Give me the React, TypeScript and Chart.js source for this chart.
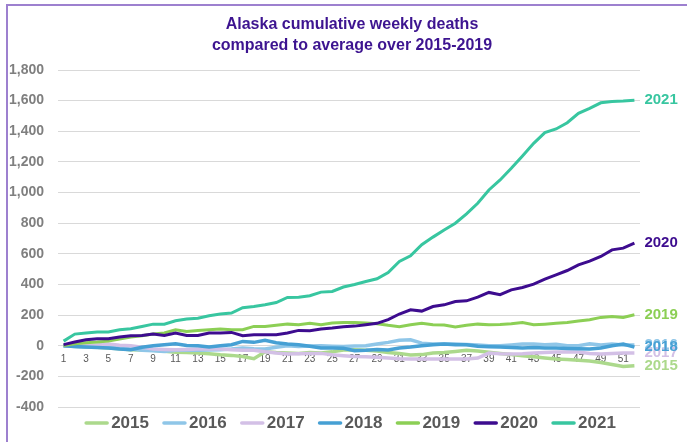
import { useEffect, useRef } from 'react';
import { Chart, registerables } from 'chart.js';

Chart.register(...registerables);

const FONT = "'Liberation Sans', Arial, Helvetica, sans-serif";

const weeks = ['1','2','3','4','5','6','7','8','9','10','11','12','13','14','15','16','17','18','19','20','21','22','23','24','25','26','27','28','29','30','31','32','33','34','35','36','37','38','39','40','41','42','43','44','45','46','47','48','49','50','51','52'];

const titleLines = ['Alaska cumulative weekly deaths', 'compared to average over 2015-2019'];

const yTicksMin = -400;
const yTicksMax = 1800;
const yTickStep = 200;

const seriesNames = ['2015', '2016', '2017', '2018', '2019', '2020', '2021'];
const seriesColors = ['#acd98c', '#8fc6e8', '#d3c0e6', '#46a0d4', '#8ccf55', '#3d0c8f', '#38c6a0'];

const deaths2015 = [0,-3,-6,-10,-15,-20,-26,-28,-30,-36,-43,-45,-48,-52,-59,-63,-70,-85,-40,-45,-48,-50,-45,-48,-40,-28,-26,-30,-34,-45,-50,-60,-58,-48,-44,-37,-30,-35,-42,-50,-57,-65,-72,-80,-87,-90,-95,-100,-110,-122,-135,-130];
const deaths2016 = [0,-5,-9,-5,0,-15,-22,-30,-33,-37,-30,-28,-30,-28,-26,-22,-15,-20,-22,-10,0,-5,-2,0,-3,-5,-2,0,11,22,35,39,17,11,11,11,8,5,0,0,5,11,11,7,9,0,0,13,5,11,5,5];
const deaths2017 = [0,2,0,5,11,3,0,-10,-22,-24,-26,-24,-22,-22,-22,-26,-30,-30,-40,-48,-54,-52,-50,-50,-59,-65,-70,-72,-75,-80,-85,-87,-87,-87,-87,-87,-87,-80,-48,-52,-54,-52,-48,-45,-41,-41,-41,-50,-54,-50,-48,-48];
const deaths2018 = [0,-5,-9,-12,-15,-22,-26,-10,0,7,13,2,0,-9,0,7,28,22,35,20,11,7,-4,-15,-15,-17,-33,-30,-24,-28,-15,-9,0,7,11,7,7,-4,-6,-9,-12,-15,-12,-15,-15,-18,-20,-22,-15,0,11,-9];
const deaths2019 = [2,13,20,24,30,43,57,65,76,83,104,93,100,104,109,104,104,126,126,133,141,137,146,137,148,152,152,148,144,133,124,137,146,137,135,122,133,141,137,139,144,152,137,141,146,152,161,170,185,191,185,202];
const deaths2020 = [7,24,39,46,46,57,65,67,76,67,83,67,67,83,83,87,65,72,72,72,83,100,98,109,115,124,128,137,146,170,207,235,226,256,267,289,293,317,348,333,365,380,402,435,463,491,528,552,583,626,637,670];
const deaths2021 = [30,76,83,89,89,104,111,126,141,141,163,174,180,196,207,213,248,256,267,282,315,317,326,350,354,383,400,419,437,478,550,587,659,709,756,800,861,930,1017,1082,1158,1239,1321,1391,1415,1456,1517,1550,1586,1595,1597,1602];

const seriesData = [deaths2015, deaths2016, deaths2017, deaths2018, deaths2019, deaths2020, deaths2021];

const chartTitle = {
  id: 'chartTitle',
  afterDraw(chart: any) {
    const ctx = chart.ctx;
    ctx.save();
    ctx.font = `bold 16px ${FONT}`;
    ctx.fillStyle = '#3d1490';
    ctx.textAlign = 'center';
    ctx.textBaseline = 'middle';
    const cx = chart.width / 2 + 8.5;
    titleLines.forEach((line, i) => {
      ctx.fillText(line, cx, 24.4 + i * 20.8);
    });
    ctx.restore();
  },
};

const endLabels = {
  id: 'endLabels',
  afterDatasetsDraw(chart: any) {
    const ctx = chart.ctx;
    ctx.save();
    ctx.font = `bold 15px ${FONT}`;
    ctx.textBaseline = 'middle';
    ctx.textAlign = 'left';
    chart.data.datasets.forEach((ds: any, i: number) => {
      const meta = chart.getDatasetMeta(i);
      const pt = meta.data[meta.data.length - 1];
      if (!pt) return;
      ctx.fillStyle = ds.borderColor;
      ctx.fillText(ds.label, pt.x + 10, pt.y);
    });
    ctx.restore();
  },
};

const customLegend = {
  id: 'customLegend',
  afterDraw(chart: any) {
    const ctx = chart.ctx;
    const { left, right, bottom } = chart.chartArea;
    ctx.save();
    ctx.font = `bold 17px ${FONT}`;
    const sample = 25;
    const gap = 2;
    const spacing = 13;
    const items = chart.data.datasets.map((ds: any) => ({
      label: ds.label,
      color: ds.borderColor,
      w: ctx.measureText(ds.label).width,
    }));
    const total = items.reduce((s: number, it: any) => s + sample + gap + it.w, 0) + spacing * (items.length - 1);
    let x = (left + right) / 2 - total / 2 + 1;
    const y = bottom + 16;
    items.forEach((it: any) => {
      ctx.strokeStyle = it.color;
      ctx.lineWidth = 3.5;
      ctx.lineCap = 'round';
      ctx.beginPath();
      ctx.moveTo(x + 2, y);
      ctx.lineTo(x + sample - 2, y);
      ctx.stroke();
      ctx.fillStyle = '#595959';
      ctx.textBaseline = 'middle';
      ctx.textAlign = 'left';
      ctx.fillText(it.label, x + sample + gap, y);
      x += sample + gap + it.w + spacing;
    });
    ctx.restore();
  },
};

export default function App() {
  const canvasRef = useRef<HTMLCanvasElement | null>(null);

  useEffect(() => {
    if (!canvasRef.current) return;
    const datasets = seriesNames.map((name, i) => ({
      label: name,
      data: seriesData[i],
      borderColor: seriesColors[i],
      backgroundColor: seriesColors[i],
      borderWidth: i < 4 ? 3.5 : 3,
      pointRadius: 0,
      pointHoverRadius: 0,
      tension: 0,
      fill: false,
      order: seriesNames.length - i,
    }));

    const chart = new Chart(canvasRef.current, {
      type: 'line',
      data: { labels: weeks, datasets },
      plugins: [endLabels, customLegend, chartTitle],
      options: {
        responsive: false,
        animation: false,
        devicePixelRatio: 1,
        layout: { padding: { left: 0, right: 47, top: 70, bottom: 35 } },
        plugins: {
          legend: { display: false },
          tooltip: { enabled: false },
          title: { display: false },
        },
        scales: {
          x: {
            type: 'category',
            position: { y: 0 } as any,
            offset: true,
            grid: { display: false, drawTicks: false },
            border: { display: false },
            ticks: {
              autoSkip: false,
              maxRotation: 0,
              minRotation: 0,
              padding: 8,
              color: '#595959',
              font: { family: FONT, size: 10 },
              callback: (_v: any, i: number) => (i % 2 === 0 ? weeks[i] : ''),
            },
          },
          y: {
            min: yTicksMin,
            max: yTicksMax,
            grid: { color: '#d9d9d9', lineWidth: 1, drawTicks: false },
            border: { display: false },
            ticks: {
              stepSize: yTickStep,
              padding: 14,
              color: '#7f7f7f',
              font: { family: FONT, size: 14, weight: 'bold' },
              callback: (v: any) => Number(v).toLocaleString('en-US'),
            },
            afterFit: (scale: any) => {
              scale.width = 58;
            },
          },
        },
      } as any,
    });
    return () => chart.destroy();
  }, []);

  return (
    <div style={{ position: 'absolute', left: 0, top: 0, width: 687, height: 442, overflow: 'hidden', background: '#ffffff' }}>
      <canvas ref={canvasRef} width={687} height={442} style={{ display: 'block' }} />
      <div
        style={{
          position: 'absolute',
          left: 6,
          top: 4,
          width: 720,
          height: 480,
          border: '2px solid #9d80cf',
          boxSizing: 'border-box',
          pointerEvents: 'none',
        }}
      />
    </div>
  );
}
